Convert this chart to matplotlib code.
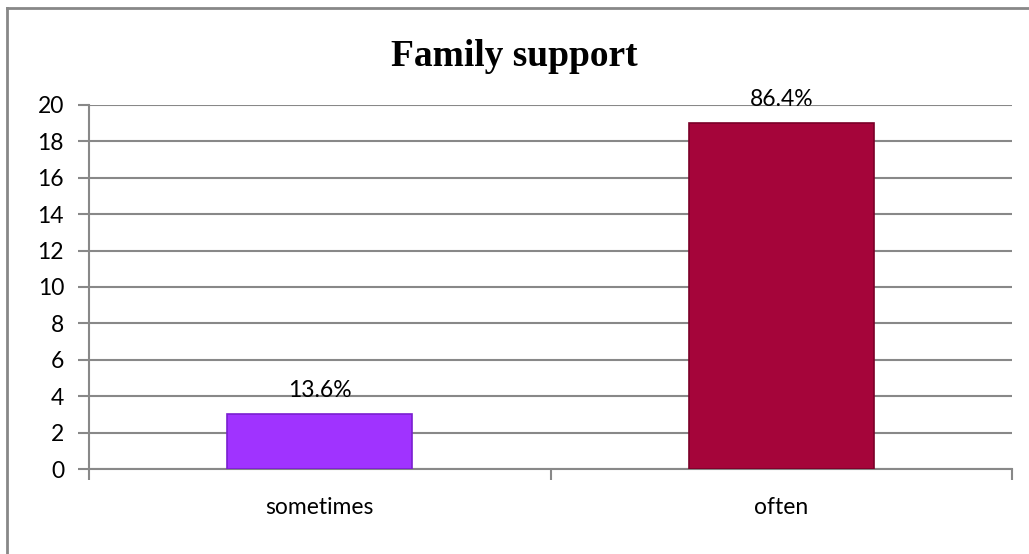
import matplotlib.pyplot as plt
import numpy as np
from matplotlib.lines import Line2D

categories = ["sometimes", "often"]
counts = [3, 19]
percent_labels = ["13.6%", "86.4%"]
bar_colors = ["#A033FF", "#A5053A"]
edge_colors = ["#7A1FD0", "#7A0028"]

fig = plt.figure(figsize=(10.29, 5.54), dpi=100)
ax = fig.add_axes([0.0865, 0.1534, 0.897, 0.6571])

x = np.arange(len(categories))
bars = ax.bar(x, counts, 0.40, color=bar_colors, edgecolor=edge_colors,
              linewidth=1.2, zorder=3)

for rect, lab in zip(bars, percent_labels):
    ax.text(rect.get_x() + rect.get_width() / 2, rect.get_height() + 0.95, lab,
            ha="center", va="baseline", fontsize=16.5, family="Lato", zorder=4)

ax.set_xlim(-0.5, 1.5)
ax.set_ylim(0, 20)
ax.set_yticks(np.arange(0, 21, 2))
ax.set_xticks([-0.5, 0.5, 1.5], minor=False)
ax.set_xticklabels([])
ax.set_xticks(x, minor=True)
ax.set_xticklabels(categories, minor=True)
ax.tick_params(axis="x", which="major", length=8, width=1.5, color="#888888")
ax.tick_params(axis="x", which="minor", length=0, pad=20, labelsize=16.5)
ax.tick_params(axis="y", length=8, width=1.5, color="#888888", labelsize=16.5, pad=10)
for lab in ax.get_xticklabels(minor=True) + ax.get_yticklabels():
    lab.set_family("Lato")

ax.grid(True, axis="y", color="#888888", linewidth=1.5, zorder=0)
ax.set_axisbelow(True)
for s in ["top", "right"]:
    ax.spines[s].set_visible(False)
for s in ["left", "bottom"]:
    ax.spines[s].set_color("#888888")
    ax.spines[s].set_linewidth(1.5)

fig.text(0.5, 1 - 57 / 554, "Family support", ha="center", va="center",
         fontsize=27, fontweight="bold", family="Liberation Serif")

# outer chart border (top and left visible)
fig.add_artist(Line2D([7 / 1029, 7 / 1029], [0, 1 - 8 / 554],
                      transform=fig.transFigure, color="#888888", linewidth=2))
fig.add_artist(Line2D([7 / 1029, 1], [1 - 8 / 554, 1 - 8 / 554],
                      transform=fig.transFigure, color="#888888", linewidth=2))

fig.savefig("out.png", dpi=100)
